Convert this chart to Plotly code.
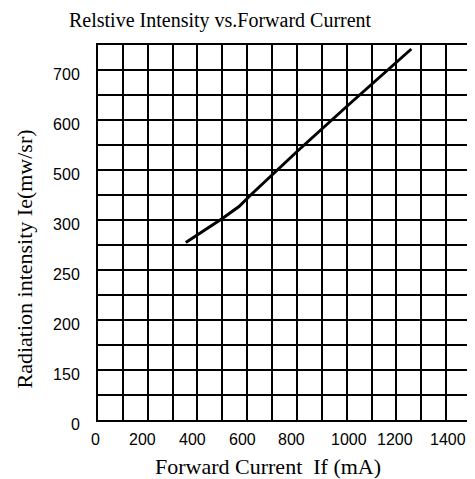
import plotly.graph_objects as go

# Curve data (x in mA, y in the chart's linear grid units: 50 per row)
current_ma = [353, 500, 567, 614, 807, 1000, 1260]
intensity = [355, 403, 427, 450, 540, 627, 742]

# Y tick labels as printed (at every second grid row)
y_tick_vals = [0, 100, 200, 300, 400, 500, 600, 700]
y_tick_text = ["0", "150", "200", "250", "300", "500", "600", "700"]

# X tick labels as printed (positions as they appear on the mA scale)
x_tick_pos = [0, 180, 380, 580, 780, 1008, 1196, 1408]
x_tick_text = ["0", "200", "400", "600", "800", "1000", "1200", "1400"]

fig = go.Figure()
fig.add_trace(go.Scatter(x=current_ma, y=intensity, mode="lines",
                         line=dict(color="black", width=3), showlegend=False,
                         hoverinfo="skip"))

tick_font = dict(family="Liberation Sans, Arial", size=16, color="black")
serif = "Liberation Serif, Times New Roman"

ann = []
for xv, t in zip(x_tick_pos, x_tick_text):
    ann.append(dict(x=xv, y=0, xref="x", yref="paper", text=t, showarrow=False,
                    xanchor="center", yanchor="middle",
                    xshift=-3 if t == "0" else 0, yshift=-19, font=tick_font))
ann.append(dict(x=0.5, y=0, xref="paper", yref="paper", text="Forward Current&nbsp;&nbsp;If (mA)",
                showarrow=False, xanchor="center", yanchor="middle", xshift=-17, yshift=-46,
                font=dict(family=serif, size=22, color="black")))
ann.append(dict(x=0, y=0.5, xref="paper", yref="paper", text="Radiation intensity Ie(mw/sr)",
                showarrow=False, xanchor="center", yanchor="middle", xshift=-74, yshift=-27,
                textangle=-90, font=dict(family=serif, size=22, color="black")))
ann.append(dict(x=0.5, y=1, xref="paper", yref="paper", text="Relstive Intensity vs.Forward Current",
                showarrow=False, xanchor="center", yanchor="middle", xshift=-64, yshift=25,
                font=dict(family=serif, size=20, color="black")))

fig.update_layout(
    width=467, height=471,
    margin=dict(l=90, r=2, t=37, b=59),
    plot_bgcolor="white", paper_bgcolor="white",
    annotations=ann,
    xaxis=dict(range=[0, 1500], tickmode="linear", tick0=0, dtick=100,
               showticklabels=False, showgrid=True, gridcolor="black", gridwidth=2,
               zeroline=False, showline=True, linecolor="black", linewidth=2, mirror=True,
               ticks=""),
    yaxis=dict(range=[0, 750], tickmode="array", tickvals=y_tick_vals, ticktext=y_tick_text,
               showgrid=True, gridcolor="black", gridwidth=2,
               minor=dict(tickmode="linear", tick0=0, dtick=50, showgrid=True,
                          gridcolor="black", gridwidth=2),
               zeroline=False, showline=True, linecolor="black", linewidth=2, mirror=True,
               ticks="", ticklabelstandoff=13, ticklabelshift=4,
               tickfont=tick_font),
)

fig.write_html("out.html")
